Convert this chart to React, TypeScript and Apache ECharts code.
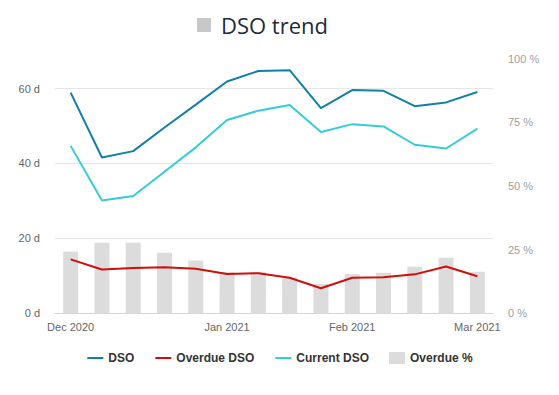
import React, { useEffect, useRef } from "react";
import * as echarts from "echarts";

const weeks = [
  "2020-12-01", "2020-12-08", "2020-12-15", "2020-12-22", "2020-12-29",
  "2021-01-05", "2021-01-12", "2021-01-19", "2021-01-26",
  "2021-02-02", "2021-02-09", "2021-02-16", "2021-02-23", "2021-03-02",
];
const dso = [58.9, 41.6, 43.3, 49.6, 55.7, 61.9, 64.7, 64.9, 54.8, 59.6, 59.4, 55.3, 56.3, 59.1];
const overdueDso = [14.4, 11.7, 12.1, 12.3, 11.9, 10.5, 10.7, 9.5, 6.7, 9.5, 9.6, 10.4, 12.5, 9.9];
const currentDso = [44.7, 30.1, 31.3, 37.8, 44.3, 51.6, 54.1, 55.6, 48.4, 50.5, 49.9, 45.0, 44.0, 49.3];
const overduePct = [24.2, 27.7, 27.7, 23.8, 20.7, 16.2, 16.2, 14.1, 11.5, 15.4, 15.9, 18.3, 21.8, 16.3];

const monthNames = ["Jan", "Feb", "Mar", "Apr", "May", "Jun", "Jul", "Aug", "Sep", "Oct", "Nov", "Dec"];

function monthLabel(v: string) {
  const [y, m] = v.split("-");
  return monthNames[parseInt(m, 10) - 1] + " " + y;
}

export default function App() {
  const ref = useRef<HTMLDivElement>(null);
  useEffect(() => {
    document.body.style.margin = "0";
    const chart = echarts.init(ref.current!, null, { renderer: "svg" });
    const font = "'Liberation Sans', Arial, sans-serif";
    const hideSymbol = { itemStyle: { opacity: 0 } };
    chart.setOption({
      animation: false,
      title: {
        left: 192,
        top: 5,
        text: "{box|}{t|DSO trend}",
        textStyle: {
          fontWeight: "normal",
          rich: {
            box: { width: 14, height: 14, backgroundColor: "#c8c8c8" },
            t: {
              fontFamily: "'Open Sans', sans-serif",
              fontSize: 22,
              fontWeight: "normal",
              color: "#1d2b3a",
              lineHeight: 30,
              padding: [0, 0, 0, 10],
            },
          },
        },
      },
      legend: {
        left: "center",
        top: 347,
        itemWidth: 16,
        itemHeight: 12,
        itemGap: 20,
        textStyle: { fontFamily: font, fontSize: 12, fontWeight: "bold", color: "#333" },
        data: [
          { name: "DSO", ...hideSymbol },
          { name: "Overdue DSO", ...hideSymbol },
          { name: "Current DSO", ...hideSymbol },
          { name: "Overdue %", icon: "rect" },
        ],
      },
      grid: { left: 55, right: 66, top: 58.6, bottom: 81.7 },
      xAxis: {
        type: "category",
        data: weeks,
        boundaryGap: true,
        axisLine: { lineStyle: { color: "#ccd6eb" } },
        axisTick: { show: false },
        axisLabel: {
          fontFamily: font,
          fontSize: 11,
          color: "#666",
          margin: 8,
          interval: (i: number) => i === 0 || weeks[i].slice(0, 7) !== weeks[i - 1].slice(0, 7),
          formatter: (v: string) => monthLabel(v),
        },
      },
      yAxis: [
        {
          type: "value",
          min: 0,
          max: 68,
          interval: 20,
          axisLine: { show: false },
          axisTick: { show: false },
          axisLabel: {
            fontFamily: font,
            fontSize: 11,
            color: "#666",
            margin: 15,
            showMaxLabel: false,
            formatter: "{value} d",
          },
          splitLine: { show: true, showMaxLine: false, lineStyle: { color: "#e6e6e6" } },
        },
        {
          type: "value",
          min: 0,
          max: 100,
          interval: 25,
          axisLine: { show: false },
          axisTick: { show: false },
          axisLabel: {
            fontFamily: font,
            fontSize: 11,
            color: "#a0a0a0",
            margin: 15,
            formatter: "{value} %",
          },
          splitLine: { show: false },
        },
      ],
      series: [
        {
          name: "DSO",
          type: "line",
          data: dso,
          symbol: "none",
          z: 3,
          lineStyle: { width: 2, color: "#1180a8" },
          itemStyle: { color: "#1180a8" },
        },
        {
          name: "Overdue DSO",
          type: "line",
          data: overdueDso,
          symbol: "none",
          z: 3,
          lineStyle: { width: 2, color: "#d20e0b" },
          itemStyle: { color: "#d20e0b" },
        },
        {
          name: "Current DSO",
          type: "line",
          data: currentDso,
          symbol: "none",
          z: 3,
          lineStyle: { width: 2, color: "#33ccd8" },
          itemStyle: { color: "#33ccd8" },
        },
        {
          name: "Overdue %",
          type: "bar",
          yAxisIndex: 1,
          data: overduePct,
          barWidth: 15,
          z: 1,
          itemStyle: { color: "#dcdcdc" },
        },
      ],
    });
    return () => chart.dispose();
  }, []);
  return <div ref={ref} style={{ width: 559, height: 395 }} />;
}
